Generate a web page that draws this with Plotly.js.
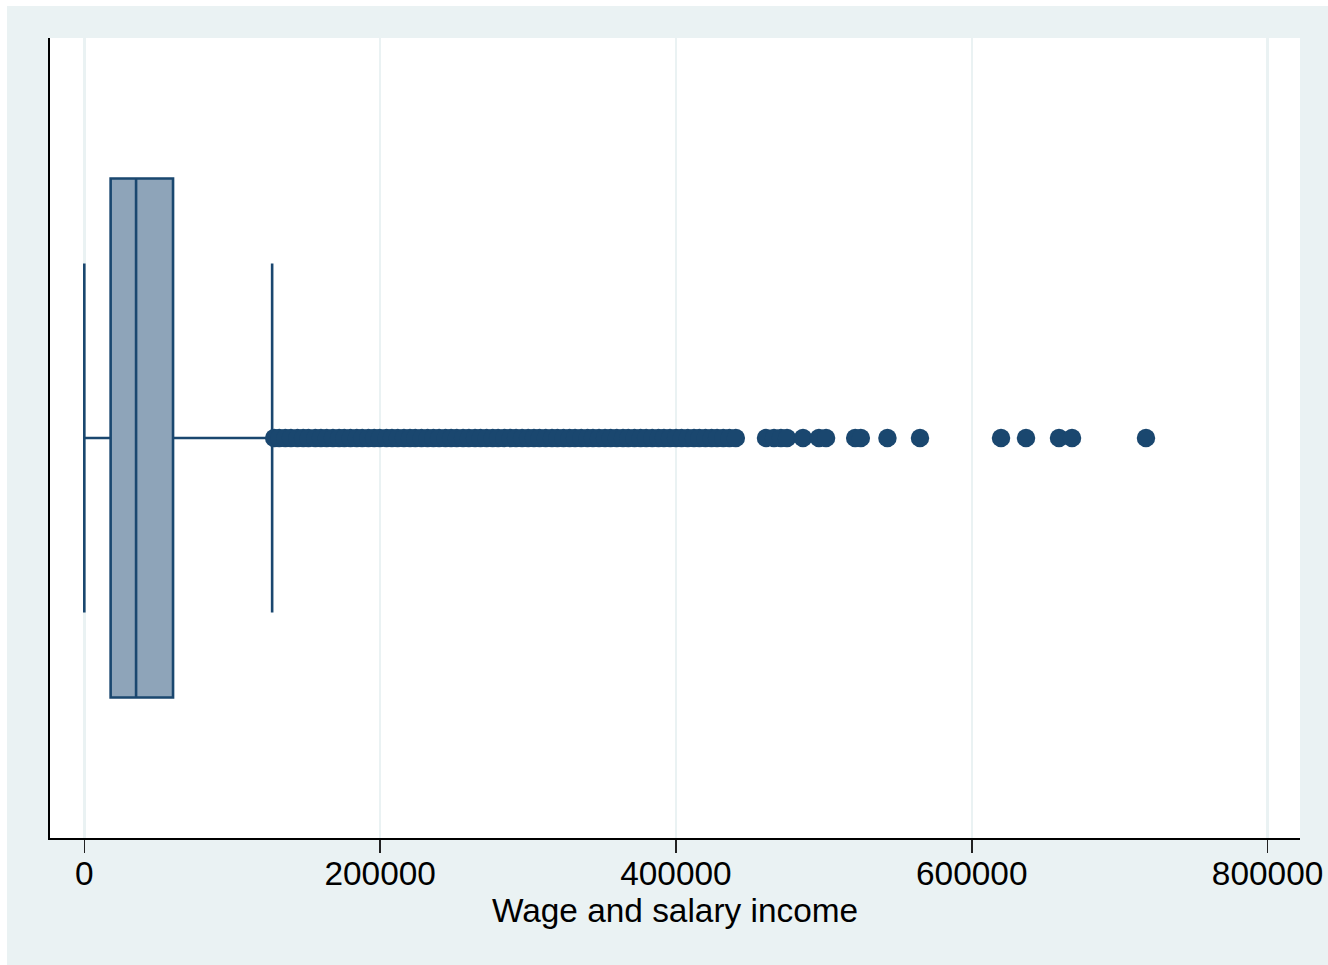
<!DOCTYPE html>
<html>
<head>
<meta charset="utf-8">
<script src="https://cdn.plot.ly/plotly-3.0.1.min.js"></script>
<style>
  html, body { margin: 0; padding: 0; background: #ffffff; width: 1328px; height: 965px; overflow: hidden; }
  #chart { position: absolute; left: 7px; top: 6px; width: 1321px; height: 959px; }
</style>
</head>
<body>
<div id="chart"></div>
<script>
// ---- Data ----
const variableName = "Wage and salary income";
const boxQ1 = 17800;
const boxMedian = 35000;
const boxQ3 = 60000;
const boxLowerWhisker = 0;
const boxUpperWhisker = 127000;

// Outside values (dense band followed by isolated points)
const outliers = [
  128400, 131800, 135900, 139700, 144100, 148000, 151600, 156200, 160000, 163900,
  168100, 172300, 175800, 180000, 184200, 187900, 192100, 196000, 199800, 204300,
  208000, 211900, 216100, 220200, 223800, 228000, 232100, 236000, 239900, 244200,
  248000, 251800, 256100, 260000, 264200, 267900, 272000, 276100, 279800, 284000,
  288200, 291900, 296000, 300100, 304000, 307800, 312000, 316200, 319900, 324000,
  328100, 331800, 336000, 340200, 343900, 348000, 352100, 355900, 360000, 364200,
  367800, 372000, 376100, 379900, 384000, 388200, 391900, 396000, 400100, 403800,
  408000, 412200, 415900, 420000, 424100, 427800, 432000, 436200, 440500,
  460900, 466300, 471000, 475100, 485900, 496700, 501500,
  521200, 525000, 543000, 565000,
  619800, 636700, 659000, 667800, 717800
];

const tickValues = [0, 200000, 400000, 600000, 800000];
const tickLabels = ["0", "200000", "400000", "600000", "800000"];

// ---- Styling ----
const navy = "#1a476f";
const boxFill = "#8ea4b9";
const bg = "#eaf2f3";
const fontFam = "Liberation Sans, Arial, Helvetica, sans-serif";

const boxTrace = {
  type: "box",
  orientation: "h",
  y: [0],
  q1: [boxQ1],
  median: [boxMedian],
  q3: [boxQ3],
  lowerfence: [boxLowerWhisker],
  upperfence: [boxUpperWhisker],
  width: 1.2975,
  whiskerwidth: 0.672,
  boxpoints: false,
  fillcolor: boxFill,
  line: { color: navy, width: 2.6 },
  hoverinfo: "skip",
  showlegend: false
};

const outlierTrace = {
  type: "scatter",
  mode: "markers",
  x: outliers,
  y: outliers.map(() => 0),
  marker: { color: navy, size: 18.5, line: { width: 0 } },
  hoverinfo: "skip",
  showlegend: false,
  cliponaxis: false
};

const layout = {
  width: 1321,
  height: 959,
  margin: { l: 43, r: 28, t: 32, b: 127, pad: 0 },
  paper_bgcolor: bg,
  plot_bgcolor: "#ffffff",
  font: { family: fontFam, color: "#000000", size: 33.4 },
  showlegend: false,
  hovermode: false,
  xaxis: {
    range: [-23190, 821930],
    tickmode: "array",
    tickvals: tickValues,
    ticktext: tickLabels,
    ticks: "outside",
    ticklen: 13,
    tickwidth: 1.5,
    tickcolor: "#222222",
    ticklabelstandoff: -8,
    tickfont: { family: fontFam, size: 33.4, color: "#000000" },
    showgrid: true,
    gridcolor: bg,
    gridwidth: 2.5,
    zeroline: false,
    showline: true,
    linecolor: "#000000",
    linewidth: 2,
    title: { text: variableName, font: { family: fontFam, size: 33.4, color: "#000000" }, standoff: 4 },
    fixedrange: true
  },
  yaxis: {
    range: [-1, 1],
    showticklabels: false,
    ticks: "",
    showgrid: false,
    zeroline: false,
    showline: true,
    linecolor: "#000000",
    linewidth: 2,
    fixedrange: true
  }
};

Plotly.newPlot("chart", [boxTrace, outlierTrace], layout, { displayModeBar: false, staticPlot: true });
</script>
</body>
</html>
